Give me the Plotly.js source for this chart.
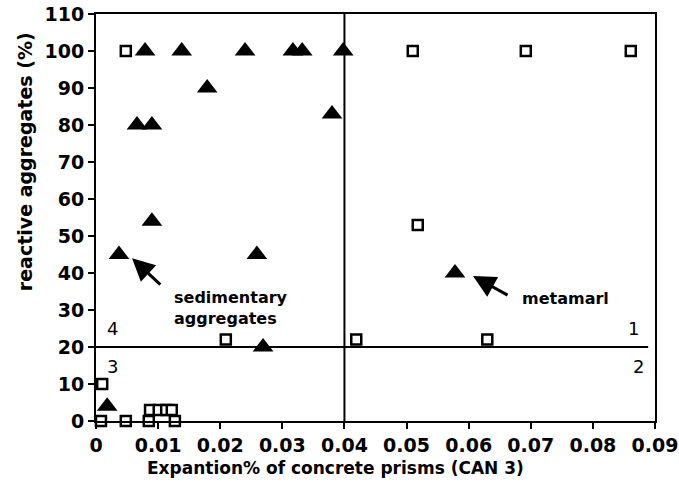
<!DOCTYPE html>
<html>
<head>
<meta charset="utf-8">
<script src="https://cdn.plot.ly/plotly-3.0.1.min.js"></script>
<style>html,body{margin:0;padding:0;background:#fff;}#chart{width:679px;height:491px;}</style>
</head>
<body>
<div id="chart"></div>
<script>
// Filled triangles (reactive aggregates)
const triX = [0.0079, 0.0138, 0.0240, 0.0317, 0.0332, 0.0398, 0.0179, 0.0066, 0.0090, 0.0380, 0.0090, 0.0037, 0.0259, 0.0269, 0.0018, 0.0578];
const triY = [100, 100, 100, 100, 100, 100, 90, 80, 80, 83, 54, 45, 45, 20, 4, 40];
// Open squares
const sqX = [0.0048, 0.0510, 0.0692, 0.0861, 0.0518, 0.0209, 0.0419, 0.0630, 0.0010, 0.0008, 0.0048, 0.0085, 0.0127, 0.0087, 0.0101, 0.0113, 0.0122];
const sqY = [100, 100, 100, 100, 53, 22, 22, 22, 10, 0, 0, 0, 0, 3, 3, 3, 3];
// Quadrant divider lines
const vLineX = [0.04, 0.04];
const vLineY = [0, 110];
const hLineX = [0, 0.0889];
const hLineY = [20, 20];
// Quadrant labels
const quadText = ["1", "2", "3", "4"];
const quadX = [0.0853, 0.0861, 0.0015, 0.0015];
const quadY = [25, 14.6, 14.6, 25];
// Axis titles
const xTitle = 'Expantion% of concrete prisms (CAN 3)';
const yTitle = 'reactive aggregates (%)';

const traces = [
  {x: vLineX, y: vLineY, mode: 'lines', line: {color: '#000', width: 2}, hoverinfo: 'skip', cliponaxis: false},
  {x: hLineX, y: hLineY, mode: 'lines', line: {color: '#000', width: 2}, hoverinfo: 'skip', cliponaxis: false},
  {x: sqX, y: sqY, mode: 'markers', cliponaxis: false,
   marker: {symbol: 'square', size: 10, color: '#fff', line: {color: '#000', width: 2.5}}},
  {x: triX, y: triY, mode: 'markers', cliponaxis: false,
   marker: {symbol: 'triangle-up', size: 18, color: '#000', line: {color: '#000', width: 0}}}
];

const annotations = quadText.map((t, i) => ({
  x: quadX[i], y: quadY[i], xref: 'x', yref: 'y', text: t, showarrow: false,
  xanchor: 'left', font: {family: 'DejaVu Sans', size: 18, color: '#000'}
}));
annotations.push(
  {x: 0.0122, y: 30.5, xref: 'x', yref: 'y', text: 'sedimentary<br>aggregates', showarrow: false,
   xanchor: 'left', align: 'left', font: {family: 'DejaVu Sans', size: 16, color: '#000', weight: 'bold'}},
  {x: 0.0058, y: 44, ax: 0.0106, ay: 36.5, xref: 'x', yref: 'y', axref: 'x', ayref: 'y', text: '',
   showarrow: true, arrowhead: 2, arrowsize: 1.5, arrowwidth: 3, arrowcolor: '#000'},
  {x: 0.0682, y: 33, xref: 'x', yref: 'y', text: 'metamarl', showarrow: false,
   xanchor: 'left', font: {family: 'DejaVu Sans', size: 16, color: '#000', weight: 'bold'}},
  {x: 0.0607, y: 39.2, ax: 0.0665, ay: 33.8, xref: 'x', yref: 'y', axref: 'x', ayref: 'y', text: '',
   showarrow: true, arrowhead: 2, arrowsize: 1.5, arrowwidth: 3, arrowcolor: '#000'},
  {x: 0.429, y: -0.1155, xref: 'paper', yref: 'paper', text: xTitle, showarrow: false,
   xanchor: 'center', yanchor: 'middle', font: {family: 'DejaVu Sans', size: 17, color: '#000', weight: 'bold'}},
  {x: -0.127, y: 0.636, xref: 'paper', yref: 'paper', text: yTitle, showarrow: false, textangle: -90,
   xanchor: 'center', yanchor: 'middle', font: {family: 'DejaVu Sans', size: 19, color: '#000', weight: 'bold'}}
);

const layout = {
  width: 679, height: 491,
  margin: {l: 96, r: 24, t: 14, b: 70},
  paper_bgcolor: '#fff', plot_bgcolor: '#fff',
  showlegend: false,
  xaxis: {
    range: [0, 0.09], dtick: 0.01, tick0: 0, showgrid: false, zeroline: false,
    showline: true, linecolor: '#000', linewidth: 2, mirror: true,
    ticks: 'outside', ticklen: 6, tickwidth: 2, tickcolor: '#000',
    tickfont: {family: 'DejaVu Sans', size: 19, color: '#000', weight: 'bold'}
  },
  yaxis: {
    range: [0, 110], dtick: 10, tick0: 0, showgrid: false, zeroline: false,
    showline: true, linecolor: '#000', linewidth: 2, mirror: true,
    ticks: 'outside', ticklen: 6, tickwidth: 2, tickcolor: '#000',
    tickfont: {family: 'DejaVu Sans', size: 19, color: '#000', weight: 'bold'}
  },
  annotations: annotations
};

Plotly.newPlot('chart', traces, layout, {displayModeBar: false, staticPlot: true});
</script>
</body>
</html>
